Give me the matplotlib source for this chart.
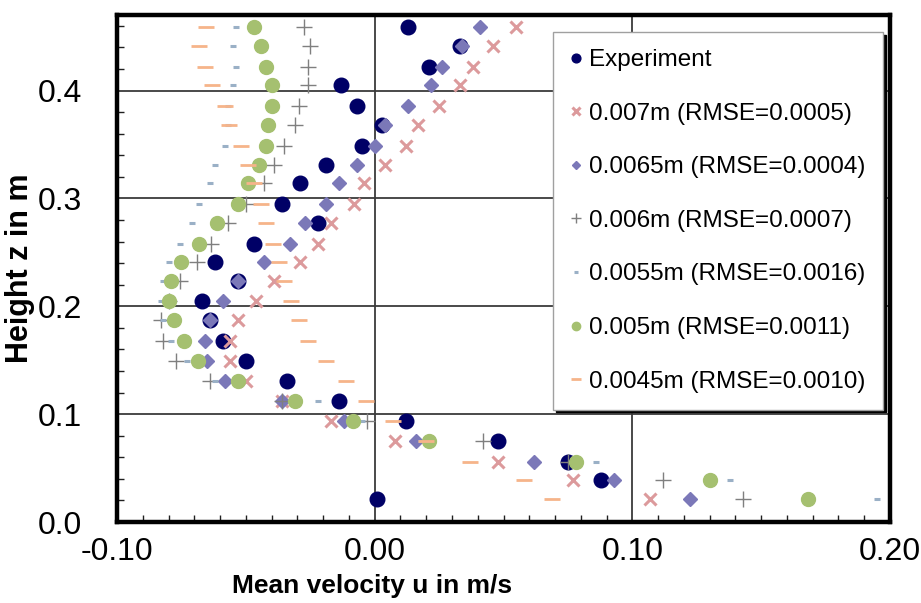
import matplotlib
matplotlib.use("Agg")
import matplotlib.pyplot as plt
from matplotlib.ticker import MultipleLocator, FixedLocator

plt.rcParams['font.family'] = ['Liberation Sans', 'DejaVu Sans']

# Heights (m), top to bottom
z = [0.459, 0.441, 0.422, 0.405, 0.386, 0.368, 0.349, 0.331, 0.314, 0.295,
     0.277, 0.258, 0.241, 0.223, 0.205, 0.187, 0.168, 0.149, 0.131, 0.112,
     0.094, 0.075, 0.056, 0.039, 0.021]

u_exp = [0.013, 0.033, 0.021, -0.013, -0.007, 0.003, -0.005, -0.019, -0.029, -0.036,
         -0.022, -0.047, -0.062, -0.053, -0.067, -0.064, -0.059, -0.050, -0.034, -0.014,
         0.012, 0.048, 0.075, 0.088, 0.001]
u_007 = [0.055, 0.046, 0.038, 0.033, 0.025, 0.017, 0.012, 0.004, -0.004, -0.008,
         -0.017, -0.022, -0.029, -0.039, -0.046, -0.053, -0.056, -0.056, -0.050, -0.036,
         -0.017, 0.008, 0.048, 0.077, 0.107]
u_0065 = [0.041, 0.034, 0.026, 0.022, 0.013, 0.004, 0.000, -0.007, -0.014, -0.019,
          -0.027, -0.033, -0.043, -0.053, -0.059, -0.064, -0.066, -0.065, -0.058, -0.036,
          -0.012, 0.016, 0.062, 0.093, 0.1225]
u_006 = [-0.0275, -0.025, -0.026, -0.026, -0.0295, -0.031, -0.035, -0.039, -0.043, -0.050,
         -0.057, -0.0635, -0.069, -0.0755, -0.080, -0.083, -0.082, -0.077, -0.064, -0.036,
         -0.003, 0.042, 0.075, 0.112, 0.143]
u_0055 = [-0.054, -0.055, -0.054, -0.055, -0.057, -0.057, -0.058, -0.062, -0.064, -0.068,
          -0.071, -0.0755, -0.080, -0.082, -0.083, -0.082, -0.079, -0.073, -0.062, -0.022,
          -0.005, 0.018, 0.086, 0.138, 0.195]
u_005 = [-0.047, -0.044, -0.042, -0.040, -0.040, -0.0415, -0.042, -0.045, -0.049, -0.053,
         -0.061, -0.068, -0.075, -0.079, -0.080, -0.078, -0.074, -0.0686, -0.053, -0.031,
         -0.0085, 0.021, 0.078, 0.130, 0.168]
u_0045 = [-0.0655, -0.068, -0.066, -0.063, -0.058, -0.0565, -0.052, -0.049, -0.047, -0.044,
          -0.042, -0.0395, -0.037, -0.035, -0.0325, -0.0295, -0.026, -0.019, -0.011, -0.0035,
          0.007, 0.020, 0.037, 0.058, 0.069]

labels = ["Experiment", "0.007m (RMSE=0.0005)", "0.0065m (RMSE=0.0004)",
          "0.006m (RMSE=0.0007)", "0.0055m (RMSE=0.0016)", "0.005m (RMSE=0.0011)",
          "0.0045m (RMSE=0.0010)"]
x_ticks = [-0.10, 0.00, 0.10, 0.20]
x_ticklabels = ["-0.10", "0.00", "0.10", "0.20"]
y_ticks = [0.0, 0.1, 0.2, 0.3, 0.4]
y_ticklabels = ["0.0", "0.1", "0.2", "0.3", "0.4"]

fig = plt.figure(figsize=(9.21, 6.03), dpi=100)
W, H = 921, 603
L, R, T, B = 117, 890, 15, 522
ax = fig.add_axes([L / W, (H - B) / H, (R - L) / W, (B - T) / H])

ax.plot(u_exp, z, ls='none', marker='o', ms=10.5, color='#000066', mec='#000066', label=labels[0], zorder=3)
ax.plot(u_007, z, ls='none', marker='x', ms=9, mew=2.2, color='#DC9A9C', label=labels[1], zorder=3)
ax.plot(u_0065, z, ls='none', marker='D', ms=7.5, color='#7B78B8', mec='#7B78B8', label=labels[2], zorder=3)
ax.plot(u_006, z, ls='none', marker='+', ms=12, mew=1.0, color='#7F7F7F', label=labels[3], zorder=3)
ax.plot(u_0055, z, ls='none', marker='_', ms=5, mew=2.2, color='#9AB0C6', label=labels[4], zorder=3)
ax.plot(u_005, z, ls='none', marker='o', ms=10, color='#A5C070', mec='#A5C070', label=labels[5], zorder=3)
ax.plot(u_0045, z, ls='none', marker='_', ms=11, mew=2.0, color='#F6B48A', label=labels[6], zorder=3)

ax.set_xlim(-0.10, 0.20)
ax.set_ylim(0.0, 0.47)
ax.xaxis.set_major_locator(FixedLocator(x_ticks))
ax.set_xticklabels(x_ticklabels)
ax.yaxis.set_major_locator(FixedLocator(y_ticks))
ax.set_yticklabels(y_ticklabels)
ax.xaxis.set_minor_locator(MultipleLocator(0.01))
ax.yaxis.set_minor_locator(MultipleLocator(0.02))
ax.tick_params(axis='both', which='major', length=0, labelsize=23)
ax.tick_params(axis='x', which='major', pad=11)
ax.tick_params(axis='y', which='major', pad=25)
ax.tick_params(axis='both', which='minor', direction='in', length=5, width=1, color='#202020')
ax.grid(True, which='major', color='#3a3a3a', lw=1.3, zorder=1)
ax.set_axisbelow(True)
for s in ax.spines.values():
    s.set_linewidth(3.2)
    s.set_color('black')

ax.set_xlabel("Mean velocity u in m/s", fontsize=19, fontweight='bold')
ax.set_ylabel("Height z in m", fontsize=22, fontweight='bold')
ax.xaxis.set_label_coords((372 - L) / (R - L), (B - 574) / (B - T))
ax.yaxis.set_label_coords((35 - L) / (R - L), 0.5)

leg = ax.legend(loc='upper left', bbox_to_anchor=((553 - L) / (R - L), (B - 32) / (B - T)),
                fontsize=17.5, frameon=True, fancybox=False, framealpha=1,
                edgecolor='#a0a0a0', shadow={'color': 'black', 'alpha': 1},
                markerscale=0.6, handlelength=0.5, handletextpad=0.3,
                labelspacing=1.3, borderpad=0.7, borderaxespad=0)
leg.get_frame().set_linewidth(1.0)
leg.set_zorder(5)

fig.savefig("out.png", dpi=100)
